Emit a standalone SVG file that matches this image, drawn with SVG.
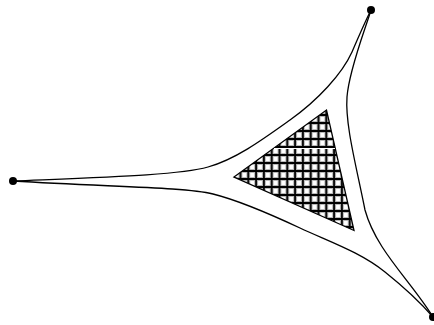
<svg xmlns="http://www.w3.org/2000/svg" width="434" height="325" viewBox="0 0 434 325">
  <style>
    .edge { fill: none; stroke: #000; stroke-width: 1.3; stroke-linecap: round; }
    .dot { fill: #000; }
    .tri { fill: url(#grid); stroke: #000; stroke-width: 1.3; stroke-linejoin: miter; }
  </style>
  <defs>
    <pattern id="grid" patternUnits="userSpaceOnUse" x="244.4" y="151" width="7.8" height="8">
      <rect width="7.8" height="8" fill="#fff"/>
      <path d="M3.9,0V8M0,4H7.8" stroke="#b8b8b8" stroke-width="4"/>
      <path d="M3.9,0V8M0,4H7.8" stroke="#000" stroke-width="1.8"/>
    </pattern>
  </defs>
  <rect width="434" height="325" fill="#fff"/>
  <g id="connectors">
    <path class="edge" d="M13,181 C110,177 180,175 208,167 C236,159 262,140 290,120 C318,100 342,74 352,52 C358,38 365,22 371,10"/>
    <path class="edge" d="M371,10 C365,30 349,70 347,97 C345,124 356,165 365,210 C376,250 410,280 433,317"/>
    <path class="edge" d="M13,181 C110,187 185,187 213,194 C241,201 270,214 300,228 C330,242 360,252 385,272 C405,288 420,302 433,317"/>
  </g>
  <g id="region">
    <polygon class="tri" points="234,177 326.5,110 354,230.5"/>
    <line x1="274" y1="148.5" x2="335" y2="148.5" stroke="#fff" stroke-width="1.2"/>
  </g>
  <g id="node-top"><circle class="dot" cx="371" cy="10" r="4"/></g>
  <g id="node-left"><circle class="dot" cx="13" cy="181" r="4"/></g>
  <g id="node-bottom"><circle class="dot" cx="433" cy="317" r="4"/></g>
</svg>
